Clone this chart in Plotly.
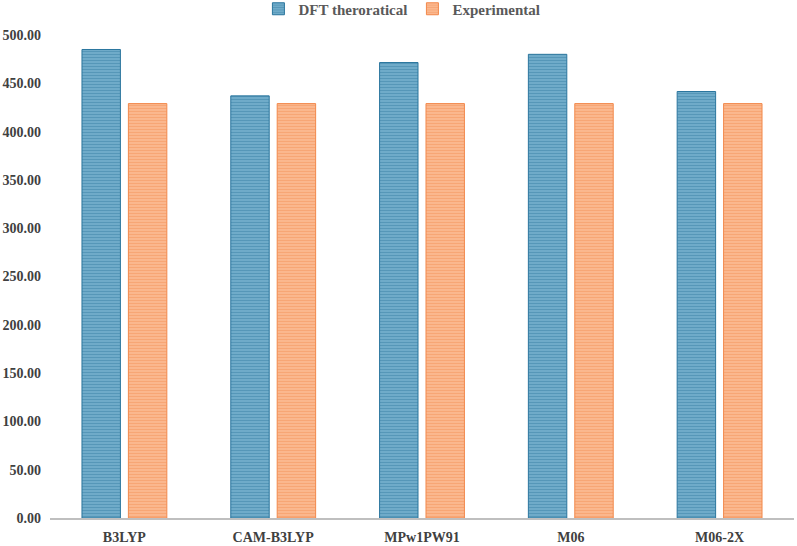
import plotly.graph_objects as go

categories = ["B3LYP", "CAM-B3LYP", "MPw1PW91", "M06", "M06-2X"]
dft_values = [485.0, 437.0, 471.5, 480.0, 441.5]
exp_values = [429.0, 429.0, 429.0, 429.0, 429.0]
y_ticks = [0, 50, 100, 150, 200, 250, 300, 350, 400, 450, 500]

font_family = "Liberation Serif"

fig = go.Figure()
fig.add_trace(go.Bar(
    x=categories, y=dft_values, name="DFT theroratical",
    marker=dict(color="#80b8d3",
                line=dict(color="#2b769e", width=1),
                pattern=dict(shape="-", fgcolor="#2b769e", fillmode="overlay",
                             size=3, solidity=0.6)),
))
fig.add_trace(go.Bar(
    x=categories, y=exp_values, name="Experimental",
    marker=dict(color="#fcc29e",
                line=dict(color="#f2894c", width=1),
                pattern=dict(shape="-", fgcolor="#f2894c", fillmode="overlay",
                             size=3, solidity=0.6)),
))

fig.update_layout(
    width=797, height=546,
    margin=dict(l=50, r=3, t=35, b=28, autoexpand=False),
    paper_bgcolor="white", plot_bgcolor="white",
    barmode="group", bargap=0.376, bargroupgap=0.172,
    font=dict(family=font_family, size=14, color="#404040"),
    legend=dict(orientation="h", x=0.473, xanchor="center",
                y=1 - 9 / 546, yanchor="middle", yref="container",
                font=dict(family=font_family, size=15, color="#595959", weight="bold"),
                traceorder="normal"),
    showlegend=True,
)
fig.update_yaxes(range=[0, 500], tickvals=y_ticks,
                 ticktext=[f"{v:.2f}" for v in y_ticks],
                 showgrid=False, zeroline=False, showline=False,
                 ticklabelstandoff=8,
                 tickfont=dict(family=font_family, size=14, color="#404040", weight="bold"))
fig.update_xaxes(showgrid=False, showline=True, linecolor="#bfbfbf", linewidth=1.5,
                 ticks="", ticklabelstandoff=5,
                 tickfont=dict(family=font_family, size=14, color="#404040", weight="bold"))

fig.write_html("out.html")
